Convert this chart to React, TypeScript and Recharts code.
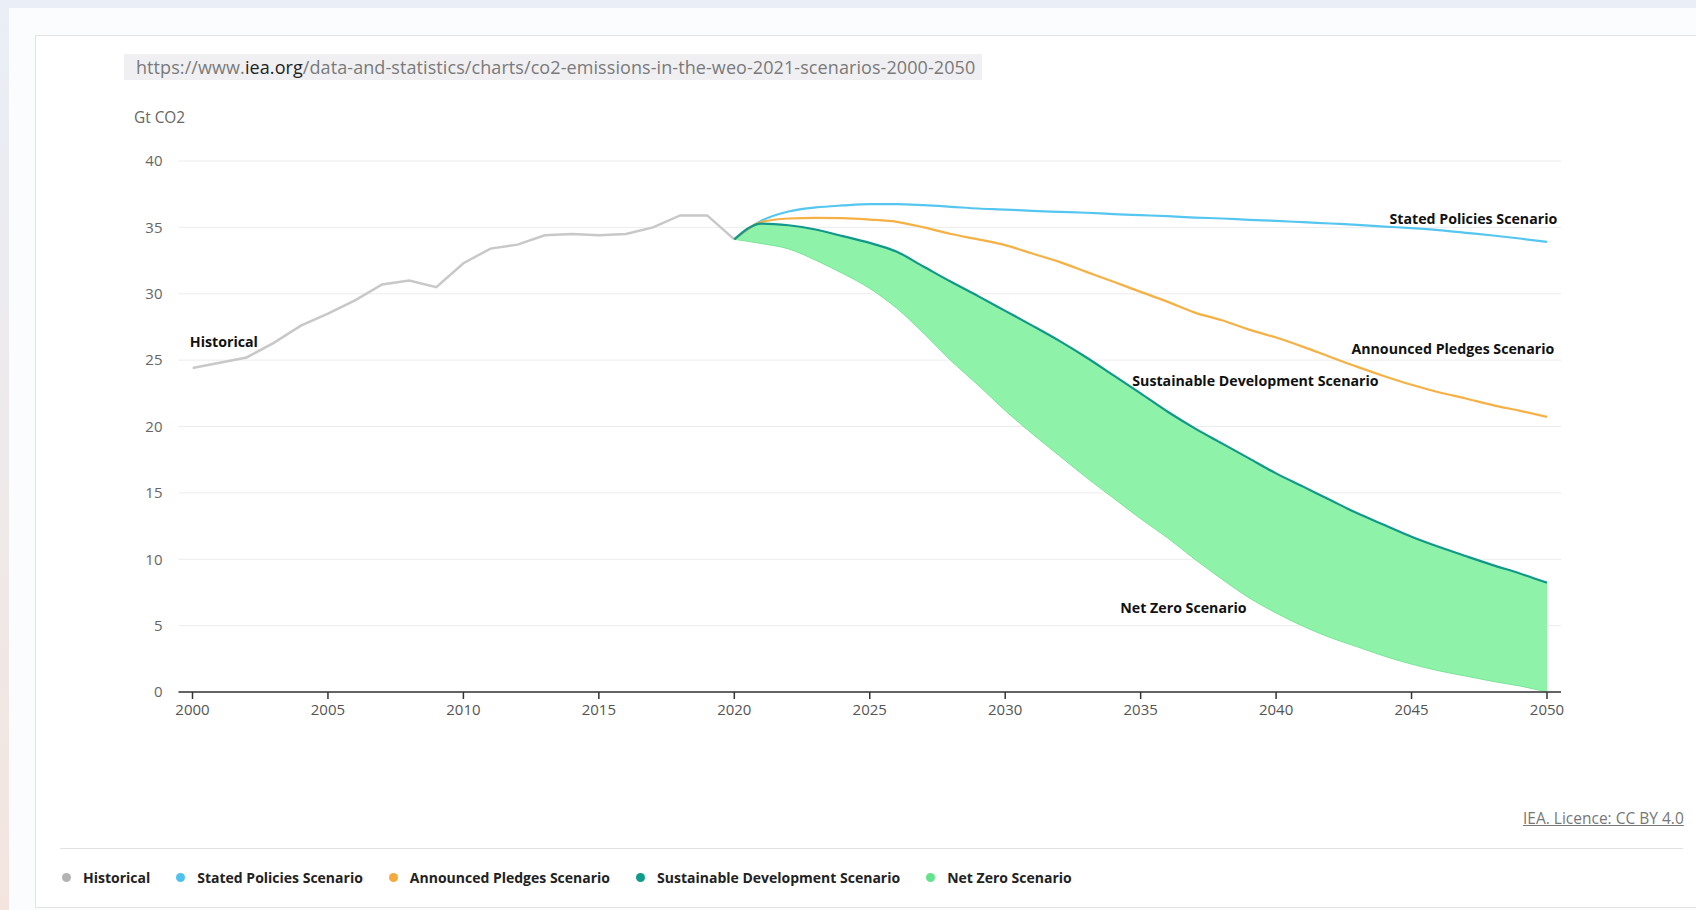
import React from 'react';
import { ComposedChart, Line, Area, XAxis, YAxis, CartesianGrid, ReferenceDot } from 'recharts';

// ---------- data ----------
const historicalYears = [2000, 2001, 2002, 2003, 2004, 2005, 2006, 2007, 2008, 2009, 2010, 2011, 2012, 2013, 2014, 2015, 2016, 2017, 2018, 2019, 2020];
const historicalValues = [24.4, 24.8, 25.2, 26.3, 27.6, 28.5, 29.5, 30.7, 31.0, 30.5, 32.3, 33.4, 33.7, 34.4, 34.5, 34.4, 34.5, 35.0, 35.9, 35.9, 34.1];

const scenarioYears = [2020, 2021, 2022, 2023, 2024, 2025, 2026, 2027, 2028, 2029, 2030, 2031, 2032, 2033, 2034, 2035, 2036, 2037, 2038, 2039, 2040, 2041, 2042, 2043, 2044, 2045, 2046, 2047, 2048, 2049, 2050];
const statedPolicies = [34.1, 35.5, 36.2, 36.5, 36.65, 36.75, 36.75, 36.67, 36.55, 36.42, 36.34, 36.24, 36.17, 36.1, 36.0, 35.92, 35.84, 35.74, 35.67, 35.57, 35.49, 35.39, 35.29, 35.19, 35.06, 34.94, 34.79, 34.59, 34.39, 34.16, 33.91];
const announcedPledges = [34.1, 35.4, 35.67, 35.72, 35.7, 35.59, 35.42, 35.0, 34.5, 34.1, 33.66, 33.03, 32.4, 31.65, 30.9, 30.14, 29.39, 28.58, 28.0, 27.3, 26.7, 26.0, 25.24, 24.49, 23.79, 23.14, 22.58, 22.11, 21.61, 21.18, 20.73];
const sustainableDevelopment = [34.1, 35.29, 35.16, 34.84, 34.34, 33.83, 33.16, 32.03, 30.9, 29.82, 28.71, 27.6, 26.45, 25.2, 23.85, 22.5, 21.11, 19.86, 18.73, 17.6, 16.47, 15.47, 14.46, 13.46, 12.58, 11.7, 10.94, 10.24, 9.56, 8.93, 8.23];
const netZero = [34.1, 33.78, 33.38, 32.53, 31.53, 30.4, 28.9, 27.0, 24.95, 23.12, 21.2, 19.45, 17.8, 16.15, 14.6, 13.05, 11.6, 10.0, 8.5, 7.1, 5.95, 4.95, 4.1, 3.4, 2.7, 2.1, 1.6, 1.2, 0.8, 0.45, 0.0];

const xTicks = [2000, 2005, 2010, 2015, 2020, 2025, 2030, 2035, 2040, 2045, 2050];
const yTicks = [0, 5, 10, 15, 20, 25, 30, 35, 40];

const seriesNames = ['Historical', 'Stated Policies Scenario', 'Announced Pledges Scenario', 'Sustainable Development Scenario', 'Net Zero Scenario'];
const seriesColors = ['#c8c8c8', '#55c6ef', '#f7b043', '#10998a', '#8ef3a9'];
const legendDotColors = ['#b3b3b3', '#4ec2ef', '#f5aa3c', '#0e9c8c', '#62e38c'];

// in-chart annotation labels: [text, year, value, anchor]
const annotations: [string, number, number, 'start' | 'end'][] = [
  ['Historical', 1999.9, 26.4, 'start'],
  ['Stated Policies Scenario', 2050.38, 35.7, 'end'],
  ['Announced Pledges Scenario', 2050.27, 25.84, 'end'],
  ['Sustainable Development Scenario', 2034.69, 23.43, 'start'],
  ['Net Zero Scenario', 2034.25, 6.4, 'start'],
];

// ---------- table for the library ----------
const table: any[] = [];
for (let y = 2000; y <= 2050; y++) {
  const row: any = { year: y };
  const hi = historicalYears.indexOf(y);
  if (hi >= 0) row.historical = historicalValues[hi];
  const si = scenarioYears.indexOf(y);
  if (si >= 0) {
    row.steps = statedPolicies[si];
    row.aps = announcedPledges[si];
    row.sds = sustainableDevelopment[si];
    row.nze = netZero[si];
    row.band = [netZero[si], sustainableDevelopment[si]];
  }
  table.push(row);
}

const FONT = '"Open Sans", Roboto, sans-serif';

const makeLabel = (text: string, anchor: 'start' | 'end') => (p: any) => (
  <text
    x={p.cx}
    y={p.cy}
    textAnchor={anchor}
    dominantBaseline="central"
    fontFamily={FONT}
    fontWeight={700}
    fontSize={14.2}
    fill="#111"
  >
    {text}
  </text>
);

export default function App() {
  return (
    <div
      style={{
        position: 'fixed',
        left: 0,
        top: 0,
        width: 1696,
        height: 910,
        overflow: 'hidden',
        background: '#e9eef7',
        fontFamily: FONT,
      }}
    >
      <div style={{ position: 'absolute', left: 0, top: 0, width: 9, height: 910, background: 'linear-gradient(#e9eef7, #f3e5de)' }} />
      <div style={{ position: 'absolute', left: 9, top: 8, width: 1700, height: 910, background: '#fbfcfe' }} />
      <div style={{ position: 'absolute', left: 35, top: 35, width: 1700, height: 871, background: '#fff', border: '1px solid #e3e3e3' }} />

      {/* url bar */}
      <div
        style={{
          position: 'absolute',
          left: 124,
          top: 54,
          width: 858,
          height: 26,
          background: '#f0f0f2',
          color: '#7a7a7a',
          fontSize: 18,
          letterSpacing: 0.08,
          lineHeight: '26px',
          paddingLeft: 12,
          boxSizing: 'border-box',
          whiteSpace: 'nowrap',
        }}
      >
        https://www.<span style={{ color: '#222' }}>iea.org</span>/data-and-statistics/charts/co2-emissions-in-the-weo-2021-scenarios-2000-2050
      </div>

      <div style={{ position: 'absolute', left: 134, top: 108, fontSize: 15.4, color: '#666', lineHeight: '20px' }}>Gt CO2</div>

      <div style={{ position: 'absolute', left: 0, top: 0 }}>
        <ComposedChart
          width={1696}
          height={910}
          data={table}
          margin={{ top: 161, right: 135, bottom: 188, left: 138.5 }}
        >
          <CartesianGrid vertical={false} stroke="#ececec" strokeWidth={1} />
          <XAxis
            dataKey="year"
            type="number"
            domain={[2000, 2050]}
            ticks={xTicks}
            padding={{ left: 14, right: 14 }}
            height={30}
            axisLine={{ stroke: '#333', strokeWidth: 1.5 }}
            tickLine={{ stroke: '#333', strokeWidth: 1.5 }}
            tickSize={7}
            tickMargin={5}
            tick={{ fill: '#555', fontSize: 15, fontFamily: FONT }}
            allowDataOverflow
          />
          <YAxis
            type="number"
            domain={[0, 40]}
            ticks={yTicks}
            width={40}
            axisLine={false}
            tickLine={false}
            tickSize={0}
            tickMargin={16}
            tick={{ fill: '#666', fontSize: 15, fontFamily: FONT }}
          />
          <Area
            dataKey="band"
            type="monotone"
            fill={seriesColors[4]}
            fillOpacity={1}
            stroke="none"
            isAnimationActive={false}
            connectNulls={false}
          />
          <Line dataKey="nze" type="monotone" stroke="#79e597" strokeWidth={1} dot={false} isAnimationActive={false} />
          <Line dataKey="historical" type="linear" stroke={seriesColors[0]} strokeWidth={2.5} dot={false} isAnimationActive={false} />
          <Line dataKey="steps" type="monotone" stroke={seriesColors[1]} strokeWidth={2.2} dot={false} isAnimationActive={false} />
          <Line dataKey="aps" type="monotone" stroke={seriesColors[2]} strokeWidth={2.2} dot={false} isAnimationActive={false} />
          <Line dataKey="sds" type="monotone" stroke={seriesColors[3]} strokeWidth={2.2} dot={false} isAnimationActive={false} />
          {annotations.map(([text, x, y, anchor]) => (
            <ReferenceDot key={text} x={x} y={y} r={0} ifOverflow="visible" shape={makeLabel(text, anchor)} />
          ))}
        </ComposedChart>
      </div>

      {/* licence */}
      <div style={{ position: 'absolute', left: 1523, top: 807, fontSize: 15.5, color: '#777', textDecoration: 'underline', whiteSpace: 'nowrap' }}>
        IEA. Licence: CC BY 4.0
      </div>
      <div style={{ position: 'absolute', left: 60, top: 848, width: 1623, height: 1, background: '#e2e2e2' }} />

      {/* legend */}
      <div style={{ position: 'absolute', left: 62, top: 868, display: 'flex', alignItems: 'center', height: 18 }}>
        {seriesNames.map((name, i) => (
          <div key={name} style={{ display: 'flex', alignItems: 'center', marginRight: 26 }}>
            <span style={{ width: 9, height: 9, borderRadius: 5, background: legendDotColors[i], display: 'inline-block', marginRight: 12 }} />
            <span style={{ fontSize: 14, fontWeight: 700, color: '#222', whiteSpace: 'nowrap' }}>{name}</span>
          </div>
        ))}
      </div>
    </div>
  );
}
